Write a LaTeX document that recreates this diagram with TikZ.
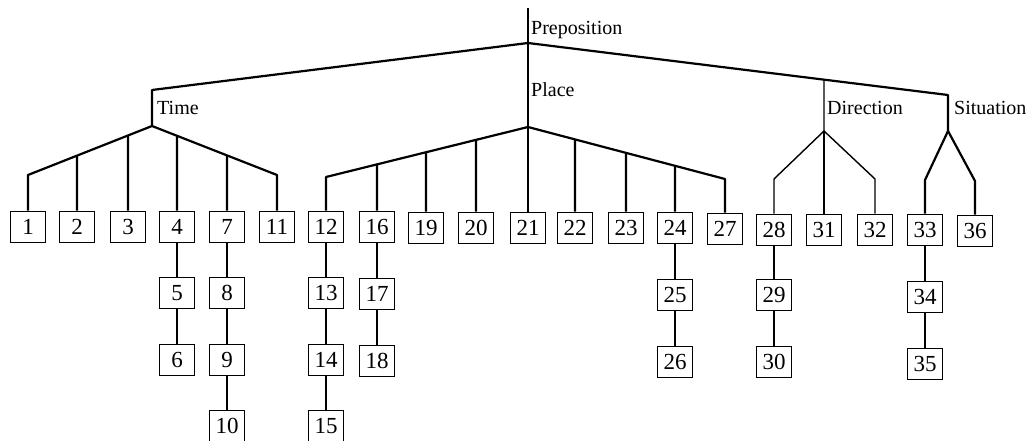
\documentclass[tikz,border=0pt]{standalone}
\usepackage{fontspec}
\setmainfont{Liberation Serif}
\begin{document}
\begin{tikzpicture}[x=1pt,y=-1pt,
  box/.style={draw,line width=1.8pt,minimum width=35pt,minimum height=31pt,inner sep=0pt,font=\fontsize{23}{23}\selectfont},
  lbl/.style={anchor=base west,inner sep=0pt,font=\fontsize{20}{20}\selectfont},
  edge/.style={line width=2.2pt,line join=round},
  thinedge/.style={line width=1.4pt,line join=round}]
\useasboundingbox (0,0) rectangle (1032,441);

% ---------- boxes: Time ----------
\node[box] (b1)  at (28,227)  {1};
\node[box] (b2)  at (77,227)  {2};
\node[box] (b3)  at (128,227) {3};
\node[box] (b4)  at (177,227) {4};
\node[box] (b5)  at (177,293) {5};
\node[box] (b6)  at (177,360) {6};
\node[box] (b7)  at (227,227) {7};
\node[box] (b8)  at (227,293) {8};
\node[box] (b9)  at (227,360) {9};
\node[box] (b10) at (227,426) {10};
\node[box] (b11) at (277,227) {11};
% ---------- boxes: Place ----------
\node[box] (b12) at (326,227) {12};
\node[box] (b13) at (326,293) {13};
\node[box] (b14) at (326,360) {14};
\node[box] (b15) at (326,426) {15};
\node[box] (b16) at (377,227) {16};
\node[box] (b17) at (377,294) {17};
\node[box] (b18) at (377,361) {18};
\node[box] (b19) at (426,228) {19};
\node[box] (b20) at (476,228) {20};
\node[box] (b21) at (528,228) {21};
\node[box] (b22) at (575,228) {22};
\node[box] (b23) at (626,228) {23};
\node[box] (b24) at (675,228) {24};
\node[box] (b25) at (675,295) {25};
\node[box] (b26) at (675,362) {26};
\node[box] (b27) at (725,229) {27};
% ---------- boxes: Direction ----------
\node[box] (b28) at (774,230) {28};
\node[box] (b29) at (774,295) {29};
\node[box] (b30) at (774,362) {30};
\node[box] (b31) at (824,230) {31};
\node[box] (b32) at (875,230) {32};
% ---------- boxes: Situation ----------
\node[box] (b33) at (925,230) {33};
\node[box] (b34) at (925,297) {34};
\node[box] (b35) at (925,364) {35};
\node[box] (b36) at (975,231) {36};

% ---------- junctions ----------
\coordinate (R0) at (528,8);
\coordinate (RJ) at (528,43);
\coordinate (TT) at (152,90);
\coordinate (TJ) at (152,126);
\coordinate (TL) at (b1.north |- 0,175);
\coordinate (TR) at (b11.north |- 0,175);
\coordinate (PJ) at (528,127);
\coordinate (PL) at (b12.north |- 0,177);
\coordinate (PR) at (b27.north |- 0,179);
\coordinate (ST) at (948,95);
\coordinate (DT) at (intersection cs: first line={(RJ)--(ST)}, second line={(824,0)--(824,100)});
\coordinate (DJ) at (824,131);
\coordinate (DL) at (b28.north |- 0,179);
\coordinate (DR) at (b32.north |- 0,179);
\coordinate (SJ) at (948,131);
\coordinate (SL) at (b33.north |- 0,180);
\coordinate (SR) at (b36.north |- 0,181);

% ---------- labels ----------
\node[lbl] (lprep) at (531,35)  {Preposition};
\node[lbl] (lplace) at (531,97) {Place};
\node[lbl] (ltime) at (157,114) {Time};
\node[lbl] (ldir) at (827,114)  {Direction};
\node[lbl] (lsit) at (954,114)  {Situation};

% ---------- top level ----------
\draw[edge] (R0) -- (b21.north);
\draw[edge] (TJ) -- (TT) -- (RJ) -- (ST) -- (SJ);
\draw[thinedge] (DT) -- (DJ);

% ---------- Time ----------
\draw[edge] (b1.north) -- (TL) -- (TJ) -- (TR) -- (b11.north);
\foreach \b in {b2,b3}
  \draw[edge] (\b.north) -- (intersection cs: first line={(TL)--(TJ)}, second line={(\b.north)--(\b.center)});
\foreach \b in {b4,b7}
  \draw[edge] (\b.north) -- (intersection cs: first line={(TJ)--(TR)}, second line={(\b.north)--(\b.center)});
\draw[edge] (b4) -- (b5) -- (b6);
\draw[edge] (b7) -- (b8) -- (b9) -- (b10);

% ---------- Place ----------
\draw[edge] (b12.north) -- (PL) -- (PJ) -- (PR) -- (b27.north);
\foreach \b in {b16,b19,b20}
  \draw[edge] (\b.north) -- (intersection cs: first line={(PL)--(PJ)}, second line={(\b.north)--(\b.center)});
\foreach \b in {b22,b23,b24}
  \draw[edge] (\b.north) -- (intersection cs: first line={(PJ)--(PR)}, second line={(\b.north)--(\b.center)});
\draw[edge] (b12) -- (b13) -- (b14) -- (b15);
\draw[edge] (b16) -- (b17) -- (b18);
\draw[edge] (b24) -- (b25) -- (b26);

% ---------- Direction ----------
\draw[thinedge] (b28.north) -- (DL) -- (DJ) -- (DR) -- (b32.north);
\draw[thinedge] (DJ) -- (b31.north);
\draw[edge] (b28) -- (b29) -- (b30);

% ---------- Situation ----------
\draw[edge] (b33.north) -- (SL) -- (SJ) -- (SR) -- (b36.north);
\draw[edge] (b33) -- (b34) -- (b35);
\end{tikzpicture}
\end{document}
